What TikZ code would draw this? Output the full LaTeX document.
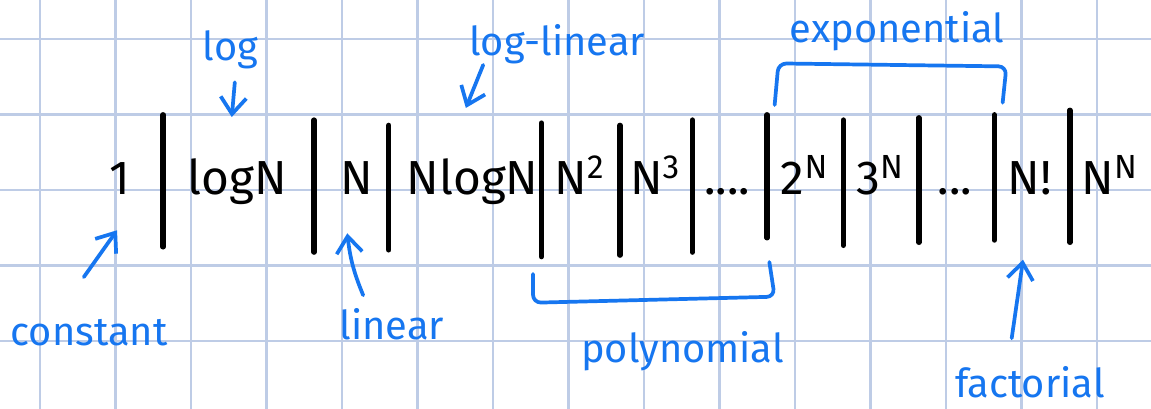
\documentclass[tikz,border=0pt]{standalone}
\usepackage{fontspec}
\setmainfont{Fira Sans}
\usetikzlibrary{arrows.meta,positioning}
\definecolor{pen}{RGB}{22,118,240}
\definecolor{gridblue}{RGB}{190,204,230}
\tikzset{
  gridline/.style={draw=gridblue,line width=1pt},
  bar/.style={line width=2pt,line cap=round},
  term/.style={anchor=base,inner sep=0pt,font=\fontsize{18}{22}\selectfont},
  note/.style={anchor=base,inner sep=0pt,text=pen,font=\fontsize{15}{18}\selectfont},
  pointer/.style={draw=pen,line width=1.4pt,line cap=round,
    -{Straight Barb[length=2.2mm,width=3.4mm]}},
  bracket/.style={draw=pen,line width=1.4pt,line cap=round,line join=round,rounded corners=3pt},
}

\begin{document}
\begin{tikzpicture}[x=1cm,y=-1cm]
  \useasboundingbox[fill=white] (0,0) rectangle (15.245,5.417);
  % squared paper
  \foreach \i in {0,...,14} \draw[gridline] (0.53+\i,0) -- (0.53+\i,5.417);
  \foreach \j in {0,...,4} \draw[gridline] (0,0.517+\j) -- (15.245,0.517+\j);

  % the growth rates
  \node[term] (one)   at (1.59,2.58)  {1};
  \node[term] (logn)  at (3.14,2.58)  {logN};
  \node[term] (n)     at (4.72,2.58)  {N};
  \node[term] (nlogn) at (6.26,2.58)  {NlogN};
  \node[term] (nsq)   at (7.68,2.58)  {N\textsuperscript{2}};
  \node[term] (ncube) at (8.68,2.58)  {N\textsuperscript{3}};
  \node[term] (dotsa) at (9.63,2.58)  {....};
  \node[term] (twon)  at (10.66,2.58) {2\textsuperscript{N}};
  \node[term] (threen) at (11.66,2.58) {3\textsuperscript{N}};
  \node[term] (dotsb) at (12.65,2.58) {...};
  \node[term] (fact)  at (13.64,2.58) {N!};
  \node[term] (nn)    at (14.70,2.58) {N\textsuperscript{N}};

  % separators
  \foreach \x/\t/\b in {2.16/1.52/3.27, 4.16/1.59/3.34, 5.15/1.66/3.31, 7.17/1.63/3.40,
      8.21/1.66/3.38, 9.17/1.59/3.34, 10.16/1.52/3.15, 11.17/1.59/3.25,
      12.17/1.56/3.21, 13.17/1.52/3.18, 14.17/1.46/3.21}
    \draw[bar] (\x,\t) -- (\x,\b);

  % labels
  \node[note] (lab-log)    at (3.05,0.80) {log};
  \node[note] (lab-loglin) at (7.38,0.74) {log-linear};
  \node[note] (lab-exp)    at (11.88,0.56) {exponential};
  \node[note] (lab-const)  at (1.18,4.57) {constant};
  \node[note] (lab-lin)    at (5.19,4.50) {linear};
  \node[note] (lab-poly)   at (9.04,4.80) {polynomial};
  \node[note] (lab-fact)   at (13.64,5.26) {factorial};

  % arrow ends
  \coordinate (log-tail)    at (3.11,1.09);
  \coordinate (log-tip)     at (3.07,1.55);
  \coordinate (loglin-tail) at (6.40,0.86);
  \coordinate (loglin-tip)  at (6.17,1.43);
  \coordinate (const-tail)  at (1.11,3.67);
  \coordinate (const-tip)   at (1.55,3.05);
  \coordinate (lin-tail)    at (4.81,3.91);
  \coordinate (lin-tip)     at (4.60,3.09);
  \coordinate (fact-tail)   at (13.40,4.48);
  \coordinate (fact-tip)    at (13.55,3.44);

  \draw[pointer] (log-tail) -- (log-tip);
  \draw[pointer] (loglin-tail) -- (loglin-tip);
  \draw[pointer] (const-tail) -- (const-tip);
  \draw[pointer] (lin-tail) to[bend left=8] (lin-tip);
  \draw[pointer] (fact-tail) -- (fact-tip);

  % brackets
  \draw[bracket] (7.06,3.63) -- (7.06,4.01) -- (10.26,3.93) -- (10.19,3.47);
  \draw[bracket] (10.26,1.39) -- (10.31,0.84) -- (13.33,0.88) -- (13.28,1.36);
\end{tikzpicture}
\end{document}
